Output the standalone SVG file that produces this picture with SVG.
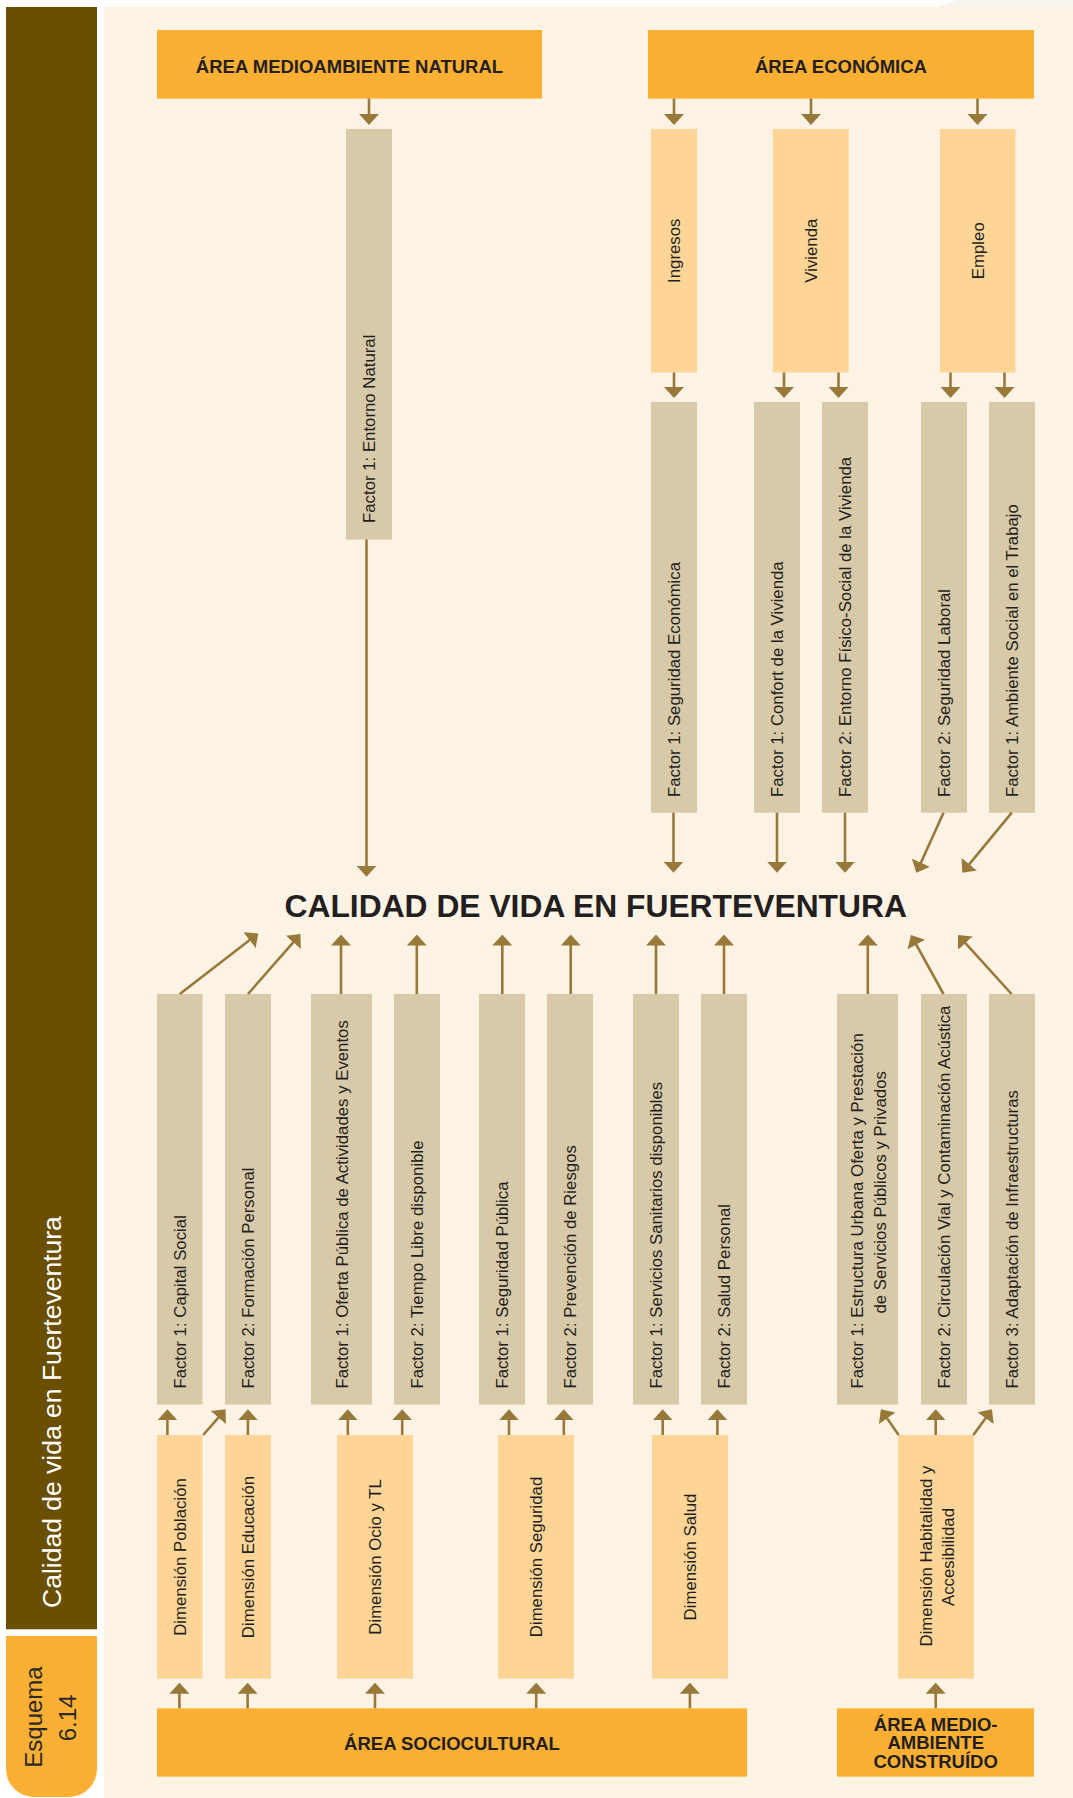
<svg xmlns="http://www.w3.org/2000/svg" width="1073" height="1798" viewBox="0 0 1073 1798">
<defs>
<style>
.area{fill:#fbb034}
.dim{fill:#fed597}
.fac{fill:#d8c9a8}
.t{font-family:"Liberation Sans",Arial,sans-serif;font-size:16.8px;fill:#231f20}
.m{text-anchor:middle}
.ta{font-family:"Liberation Sans",Arial,sans-serif;font-size:18.5px;font-weight:bold;fill:#231f20;text-anchor:middle}
.title{font-family:"Liberation Sans",Arial,sans-serif;font-size:31.8px;font-weight:bold;fill:#231f20;text-anchor:middle}
.side{font-family:"Liberation Sans",Arial,sans-serif;font-size:26.5px;fill:#ffffff}
.esq{font-family:"Liberation Sans",Arial,sans-serif;font-size:24px;fill:#2b2a28;text-anchor:middle}
#connectors path{fill:none;stroke:#98793a;stroke-width:2.6}
</style>
<marker id="ah" viewBox="0 0 11 20" refX="8" refY="10" markerWidth="11" markerHeight="20" markerUnits="userSpaceOnUse" orient="auto"><path d="M0,0 L11,10 L0,20 Z" fill="#98793a"/></marker>
</defs>

<!-- background -->
<rect x="0" y="0" width="1073" height="1798" fill="#ffffff"/>
<rect x="104" y="7" width="969" height="1791" fill="#fdf3e5"/>
<polygon points="937,7 957,0 1073,0 1073,7" fill="#f7f4ee"/>

<!-- side band -->
<g id="side-band">
<rect x="6" y="7" width="91" height="1622.3" fill="#6b4f00"/>
<text class="side" transform="translate(61,1608) rotate(-90)">Calidad de vida en Fuerteventura</text>
</g>
<g id="esquema">
<path d="M6,1636 H97 V1769 A28,28 0 0 1 69,1797 H34 A28,28 0 0 1 6,1769 Z" fill="#fbb034"/>
<text class="esq" transform="translate(42,1717) rotate(-90)">Esquema</text>
<text class="esq" transform="translate(76,1718) rotate(-90)">6.14</text>
</g>

<!-- top areas -->
<g id="n-area-natural"><rect class="area" x="157" y="30" width="385" height="68.6"/><text class="ta" x="349.5" y="72.5">ÁREA MEDIOAMBIENTE NATURAL</text></g>
<g id="n-area-economica"><rect class="area" x="648" y="30" width="386" height="68.6"/><text class="ta" x="841" y="72.5">ÁREA ECONÓMICA</text></g>

<g id="n-entorno-natural"><rect class="fac" x="346" y="129" width="46" height="410.6"/><text class="t" transform="translate(375,523) rotate(-90)">Factor 1: Entorno Natural</text></g>

<g id="n-ingresos"><rect class="dim" x="651" y="129" width="46" height="243.5"/><text class="t m" transform="translate(680,250.7) rotate(-90)">Ingresos</text></g>
<g id="n-vivienda"><rect class="dim" x="772.8" y="129" width="75.8" height="243.5"/><text class="t m" transform="translate(816.7,250.7) rotate(-90)">Vivienda</text></g>
<g id="n-empleo"><rect class="dim" x="940" y="129" width="75.5" height="243.5"/><text class="t m" transform="translate(983.7,250.7) rotate(-90)">Empleo</text></g>

<!-- factor row 2 -->
<g id="n-seg-economica"><rect class="fac" x="651" y="402" width="46" height="410.7"/><text class="t" transform="translate(680,797) rotate(-90)">Factor 1: Seguridad Económica</text></g>
<g id="n-confort"><rect class="fac" x="754" y="402" width="46" height="410.7"/><text class="t" transform="translate(783,797) rotate(-90)">Factor 1: Confort de la Vivienda</text></g>
<g id="n-entorno-fisico"><rect class="fac" x="822" y="402" width="46" height="410.7"/><text class="t" transform="translate(851,797) rotate(-90)">Factor 2: Entorno Físico-Social de la Vivienda</text></g>
<g id="n-seg-laboral"><rect class="fac" x="921" y="402" width="46" height="410.7"/><text class="t" transform="translate(950,797) rotate(-90)">Factor 2: Seguridad Laboral</text></g>
<g id="n-ambiente-social"><rect class="fac" x="989" y="402" width="46" height="410.7"/><text class="t" transform="translate(1018,797) rotate(-90)">Factor 1: Ambiente Social en el Trabajo</text></g>

<!-- title -->
<g id="n-title"><text class="title" x="595.7" y="916.5">CALIDAD DE VIDA EN FUERTEVENTURA</text></g>

<!-- factor row 3 -->
<g id="n-capital-social"><rect class="fac" x="157" y="994" width="45.5" height="410.6"/><text class="t" transform="translate(185.7,1388.6) rotate(-90)">Factor 1: Capital Social</text></g>
<g id="n-formacion"><rect class="fac" x="225" y="994" width="46" height="410.6"/><text class="t" transform="translate(254,1388.6) rotate(-90)">Factor 2: Formación Personal</text></g>
<g id="n-oferta"><rect class="fac" x="311" y="994" width="61" height="410.6"/><text class="t" transform="translate(347.5,1388.6) rotate(-90)">Factor 1: Oferta Pública de Actividades y Eventos</text></g>
<g id="n-tiempo"><rect class="fac" x="394" y="994" width="46" height="410.6"/><text class="t" transform="translate(423,1388.6) rotate(-90)">Factor 2: Tiempo Libre disponible</text></g>
<g id="n-seg-publica"><rect class="fac" x="479" y="994" width="46" height="410.6"/><text class="t" transform="translate(508,1388.6) rotate(-90)">Factor 1: Seguridad Pública</text></g>
<g id="n-prevencion"><rect class="fac" x="547" y="994" width="46" height="410.6"/><text class="t" transform="translate(576,1388.6) rotate(-90)">Factor 2: Prevención de Riesgos</text></g>
<g id="n-sanitarios"><rect class="fac" x="633" y="994" width="46" height="410.6"/><text class="t" transform="translate(662,1388.6) rotate(-90)">Factor 1: Servicios Sanitarios disponibles</text></g>
<g id="n-salud-personal"><rect class="fac" x="701" y="994" width="46" height="410.6"/><text class="t" transform="translate(730,1388.6) rotate(-90)">Factor 2: Salud Personal</text></g>
<g id="n-estructura"><rect class="fac" x="837" y="994" width="61" height="410.6"/><text class="t" transform="translate(862.5,1388.6) rotate(-90)">Factor 1: Estructura Urbana Oferta y Prestación</text><text class="t" transform="translate(885.5,1313.6) rotate(-90)">de Servicios Públicos y Privados</text></g>
<g id="n-circulacion"><rect class="fac" x="921" y="994" width="46" height="410.6"/><text class="t" transform="translate(950,1388.6) rotate(-90)">Factor 2: Circulación Vial y Contaminación Acústica</text></g>
<g id="n-adaptacion"><rect class="fac" x="989" y="994" width="46" height="410.6"/><text class="t" transform="translate(1018,1388.6) rotate(-90)">Factor 3: Adaptación de Infraestructuras</text></g>

<!-- dimension row -->
<g id="n-dim-poblacion"><rect class="dim" x="157" y="1435" width="45.5" height="243.7"/><text class="t m" transform="translate(185.7,1557) rotate(-90)">Dimensión Población</text></g>
<g id="n-dim-educacion"><rect class="dim" x="225" y="1435" width="46" height="243.7"/><text class="t m" transform="translate(254,1557) rotate(-90)">Dimensión Educación</text></g>
<g id="n-dim-ocio"><rect class="dim" x="337" y="1435" width="76" height="243.7"/><text class="t m" transform="translate(381,1557) rotate(-90)">Dimensión Ocio y TL</text></g>
<g id="n-dim-seguridad"><rect class="dim" x="498" y="1435" width="76" height="243.7"/><text class="t m" transform="translate(542,1557) rotate(-90)">Dimensión Seguridad</text></g>
<g id="n-dim-salud"><rect class="dim" x="652" y="1435" width="76" height="243.7"/><text class="t m" transform="translate(696,1557) rotate(-90)">Dimensión Salud</text></g>
<g id="n-dim-habitabilidad"><rect class="dim" x="898" y="1435" width="76" height="243.7"/><text class="t m" transform="translate(931.6,1556) rotate(-90)">Dimensión Habitalidad y</text><text class="t m" transform="translate(954,1557) rotate(-90)">Accesibilidad</text></g>

<!-- bottom areas -->
<g id="n-area-sociocultural"><rect class="area" x="157" y="1708.3" width="590" height="68.4"/><text class="ta" x="452" y="1750">ÁREA SOCIOCULTURAL</text></g>
<g id="n-area-construido"><rect class="area" x="837" y="1708.3" width="197" height="68.4"/><text class="ta" x="935.7" y="1730.7">ÁREA MEDIO-</text><text class="ta" x="935.7" y="1749.3">AMBIENTE</text><text class="ta" x="935.7" y="1768">CONSTRUÍDO</text></g>

<!-- connectors -->
<g id="connectors" marker-end="url(#ah)">
<path d="M369,98.6 V122"/>
<path d="M674,98.6 V122"/>
<path d="M811,98.6 V122"/>
<path d="M977.5,98.6 V122"/>
<path d="M674,372.5 V395"/>
<path d="M784,372.5 V395"/>
<path d="M838.5,372.5 V395"/>
<path d="M950.5,372.5 V395"/>
<path d="M1004.5,372.5 V395"/>

<path d="M366.5,539.6 V873.7"/>
<path d="M673.5,812.7 V869.7"/>
<path d="M777,812.7 V869.7"/>
<path d="M845,812.7 V869.7"/>
<path d="M943.5,812.7 L917.6,870"/>
<path d="M1011.8,812.7 L964.2,870.4"/>

<path d="M179.8,994 L255.9,935.3"/>
<path d="M248,994 L298.5,936.3"/>
<path d="M341,994 V937.5"/>
<path d="M416.8,994 V937.5"/>
<path d="M502.3,994 V937.5"/>
<path d="M570.7,994 V937.5"/>
<path d="M656,994 V937.5"/>
<path d="M724,994 V937.5"/>
<path d="M867.8,994 V937.5"/>
<path d="M943.5,994 L912.4,937.6"/>
<path d="M1011.5,994 L960,937.2"/>

<path d="M167.4,1435 V1412.3"/>
<path d="M203.2,1435 L223.6,1411.6"/>
<path d="M247.9,1435 V1412.3"/>
<path d="M347.8,1435 V1412.3"/>
<path d="M402.2,1435 V1412.3"/>
<path d="M509,1435 V1412.3"/>
<path d="M563.8,1435 V1412.3"/>
<path d="M662.7,1435 V1412.3"/>
<path d="M717.4,1435 V1412.3"/>
<path d="M898.6,1435 L882.6,1411.8"/>
<path d="M935.7,1435 V1412.3"/>
<path d="M973.4,1435 L990.2,1411.7"/>

<path d="M179.4,1708.3 V1685.7"/>
<path d="M247.6,1708.3 V1685.7"/>
<path d="M375,1708.3 V1685.7"/>
<path d="M536.2,1708.3 V1685.7"/>
<path d="M689.9,1708.3 V1685.7"/>
<path d="M935.7,1708.3 V1685.7"/>
</g>
</svg>
